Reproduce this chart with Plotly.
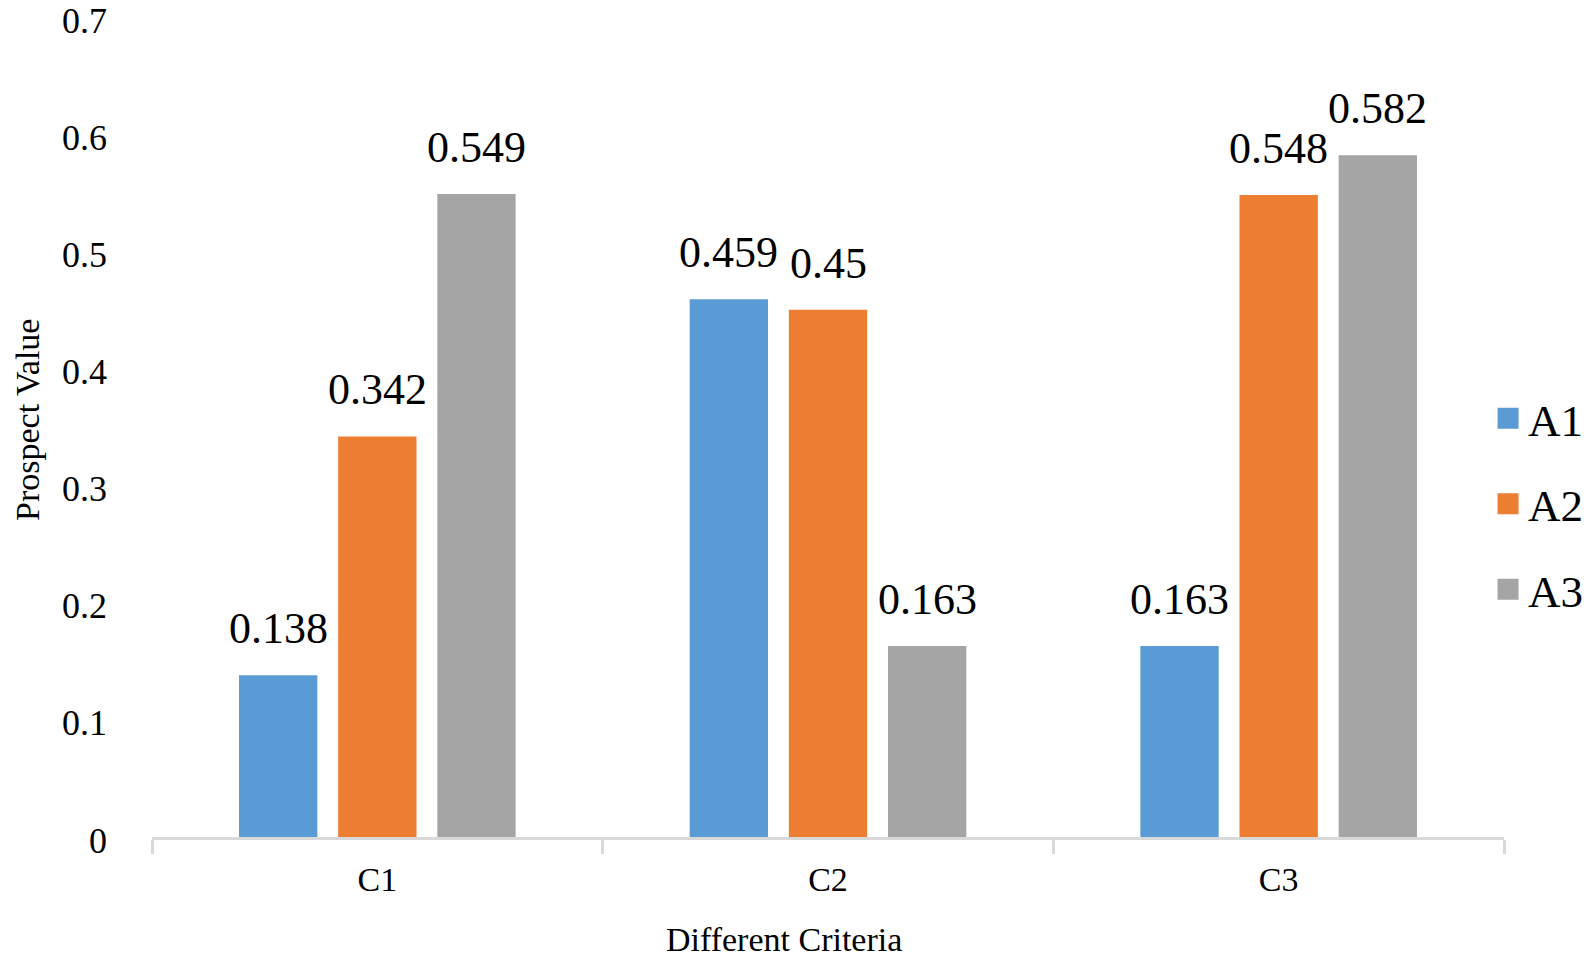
import plotly.graph_objects as go

categories = ["C1", "C2", "C3"]
series_names = ["A1", "A2", "A3"]
a1_values = [0.138, 0.459, 0.163]
a2_values = [0.342, 0.45, 0.548]
a3_values = [0.549, 0.163, 0.582]
colors = ["#5B9BD5", "#ED7D31", "#A5A5A5"]
y_ticks = [0, 0.1, 0.2, 0.3, 0.4, 0.5, 0.6, 0.7]
y_tick_labels = ["0", "0.1", "0.2", "0.3", "0.4", "0.5", "0.6", "0.7"]

FONT = "Liberation Serif, Times New Roman, serif"
BARGAP = 0.34
BARGROUPGAP = 0.21

all_series = [a1_values, a2_values, a3_values]

fig = go.Figure()
for name, vals, col in zip(series_names, all_series, colors):
    fig.add_trace(go.Bar(
        x=categories, y=vals, name=name,
        marker=dict(color=col, line=dict(width=0)),
        legendgroup=name, showlegend=False,
    ))

# legend proxies (larger square swatches)
for name, col in zip(series_names, colors):
    fig.add_trace(go.Scatter(
        x=[None], y=[None], name=name, mode="markers",
        marker=dict(symbol="square", size=16, color=col,
                    line=dict(color=col, width=5)),
        legendgroup=name, showlegend=True, hoverinfo="skip",
    ))

# data labels placed above each bar, positioned via the category axis
n = len(all_series)
slot = (1 - BARGAP) / n
annotations = []
for i, vals in enumerate(all_series):
    off = (i - (n - 1) / 2) * slot
    for j, v in enumerate(vals):
        annotations.append(dict(
            x=j + off, y=v, xref="x", yref="y", text=f"{v:g}",
            showarrow=False, yanchor="bottom", yshift=20,
            font=dict(family=FONT, size=44, color="black"),
        ))

annotations.append(dict(
    x=0.4675, y=-0.125, xref="paper", yref="paper", text="Different Criteria",
    showarrow=False, xanchor="center", yanchor="middle",
    font=dict(family=FONT, size=34, color="black"),
))
annotations.append(dict(
    x=-0.0925, y=0.5085, xref="paper", yref="paper", text="Prospect Value",
    showarrow=False, xanchor="center", yanchor="middle", textangle=-90,
    font=dict(family=FONT, size=34, color="black"),
))

fig.update_layout(
    width=1592, height=960,
    margin=dict(l=152, r=88, t=17, b=123, pad=0, autoexpand=False),
    paper_bgcolor="white", plot_bgcolor="white",
    barmode="group", bargap=BARGAP, bargroupgap=BARGROUPGAP,
    font=dict(family=FONT, color="black"),
    showlegend=True,
    legend=dict(
        xref="container", yref="container", x=0.9347, y=0.475,
        xanchor="left", yanchor="middle",
        font=dict(family=FONT, size=45, color="black"),
        tracegroupgap=24, bgcolor="rgba(0,0,0,0)", itemsizing="trace",
    ),
    annotations=annotations,
)
fig.update_xaxes(
    type="category", showgrid=False, zeroline=False,
    showline=True, linecolor="#D9D9D9", linewidth=3,
    ticks="outside", tickson="boundaries", ticklen=14, tickwidth=3,
    tickcolor="#D9D9D9", ticklabelstandoff=10,
    tickfont=dict(family=FONT, size=34, color="black"),
)
fig.update_yaxes(
    range=[0, 0.70001], tickvals=y_ticks, ticktext=y_tick_labels,
    showgrid=False, zeroline=False, showline=False, ticks="",
    ticklabelstandoff=44, ticklabeloverflow="allow", ticklabelshift=3,
    tickfont=dict(family=FONT, size=36, color="black"),
)

fig.write_html(
    "out.html",
    config={"displayModeBar": False},
    post_script="document.body.style.margin='0';document.body.style.overflow='hidden';",
)
